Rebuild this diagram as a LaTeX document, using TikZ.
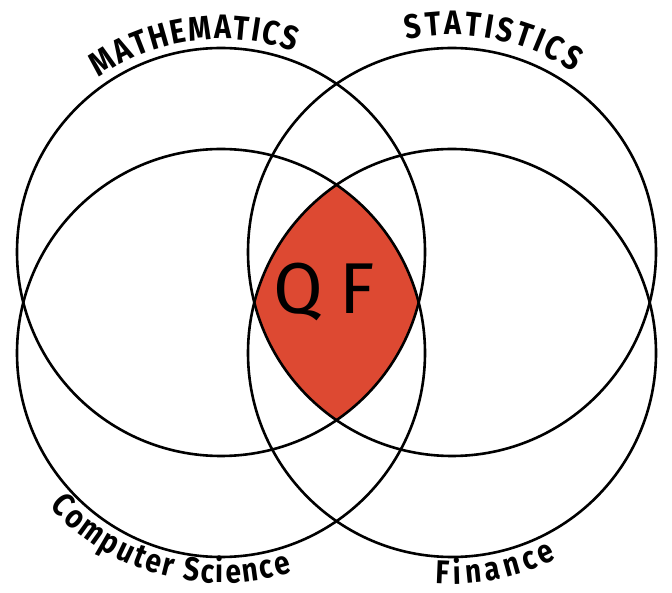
\documentclass[tikz,border=0pt]{standalone}
\usepackage{fontspec}
\setmainfont{Fira Sans}
\newfontfamily\hand{Fira Sans}[FakeStretch=0.85]
\usepackage{xcolor}
\usepackage{tikz}
\usetikzlibrary{decorations.text}

\definecolor{qfred}{RGB}{221,73,50}

\begin{document}
\begin{tikzpicture}[
    x=1pt, y=1pt,
    ring/.style={draw=black, line width=2.6pt},
]
    \useasboundingbox (0,0) rectangle (672,592);

    \coordinate (math) at (221,340);
    \coordinate (stat) at (452,340);
    \coordinate (comp) at (221,239);
    \coordinate (fin)  at (452,239);

    % the part all four share
    \begin{scope}
        \clip (math) circle (204pt);
        \clip (stat) circle (204pt);
        \clip (comp) circle (204pt);
        \fill[qfred] (fin) circle (204pt);
    \end{scope}

    \foreach \c in {math,stat,comp,fin}
        \draw[ring] (\c) circle (204pt);

    % names along the circles
    \path[decorate, decoration={text along path, text align=fit to path,
          text={|\hand\bfseries\fontsize{34}{38}\selectfont|MATHEMATICS}}]
        (math) ++(125:213pt) arc[start angle=125, end angle=70, radius=213pt];
    \path[decorate, decoration={text along path, text align=fit to path,
          text={|\hand\bfseries\fontsize{34}{38}\selectfont|STATISTICS}}]
        (stat) ++(102:217pt) arc[start angle=102, end angle=56, radius=217pt];
    \path[decorate, decoration={text along path, text align=fit to path,
          text={|\hand\bfseries\fontsize{33}{36}\selectfont|Computer Science}}]
        (comp) ++(222:230pt) arc[start angle=222, end angle=288, radius=230pt];
    \path[decorate, decoration={text along path, text align=fit to path,
          text={|\hand\bfseries\fontsize{33}{36}\selectfont|Finance}}]
        (fin) ++(266:231pt) arc[start angle=266, end angle=297, radius=231pt];

    \node[font=\fontsize{72}{80}\selectfont] (qf) at (324,300) {Q\kern16pt F};
\end{tikzpicture}
\end{document}
